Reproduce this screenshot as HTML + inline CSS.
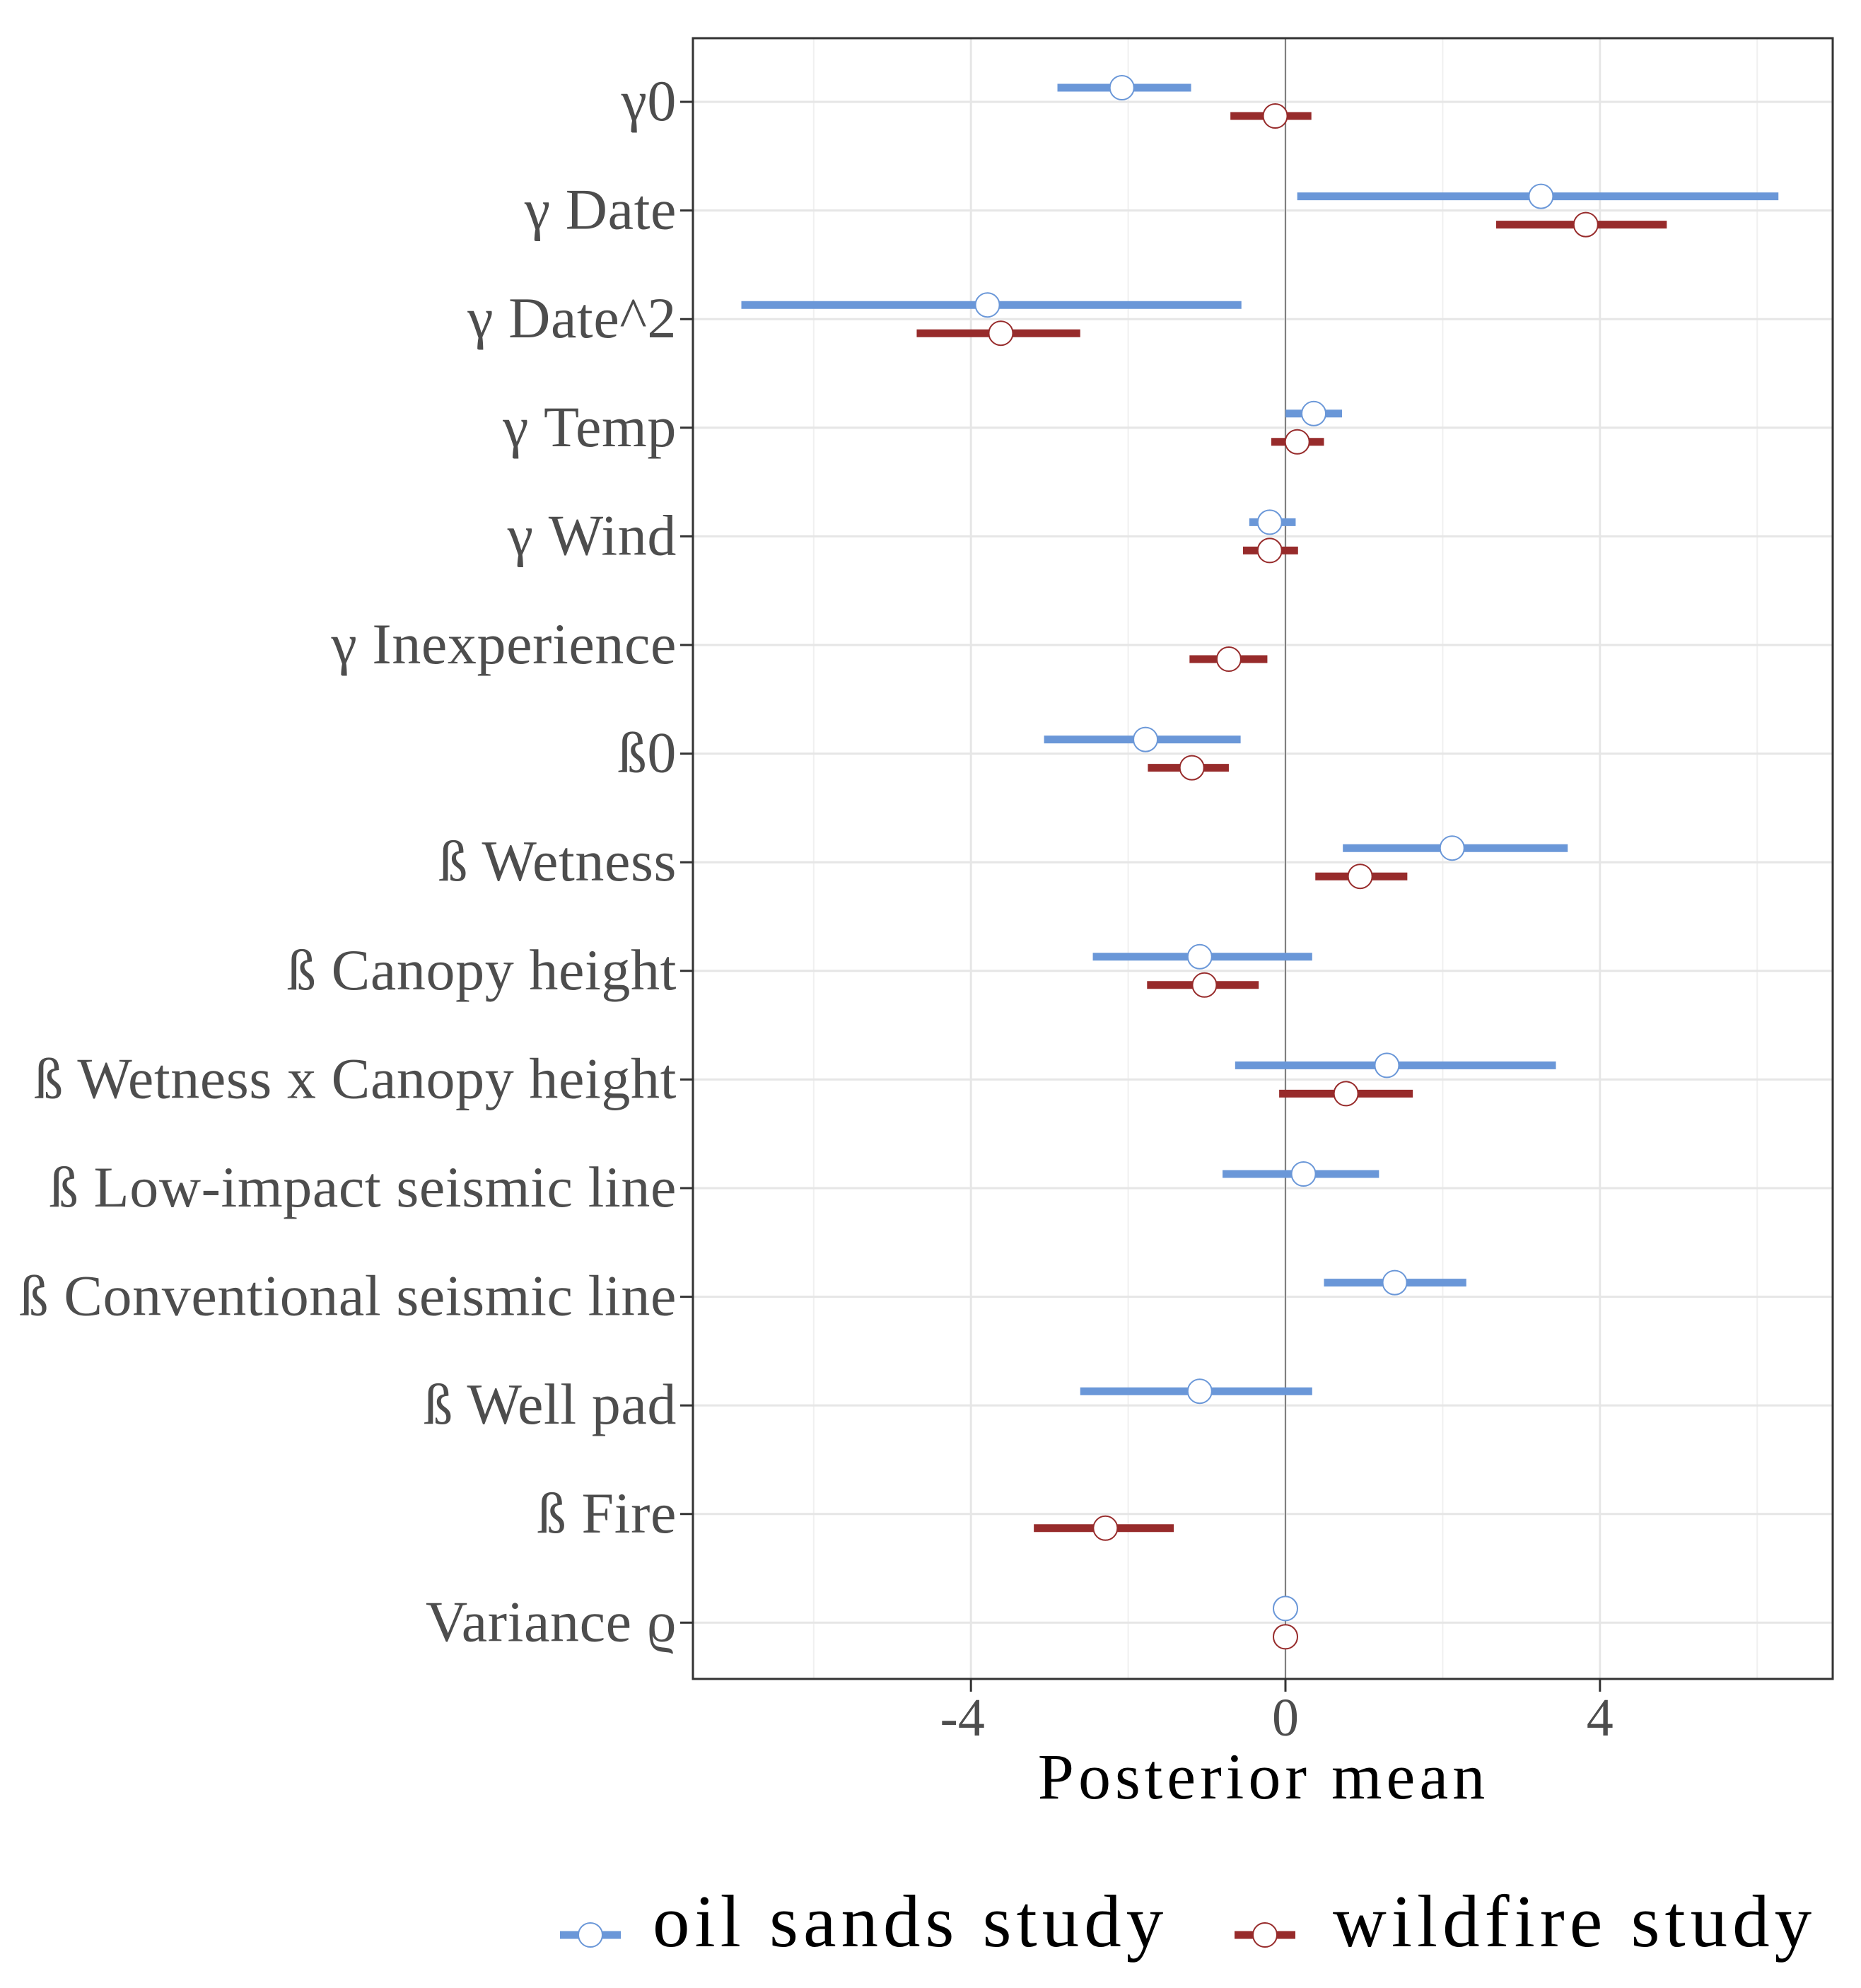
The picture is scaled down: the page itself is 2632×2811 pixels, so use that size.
<!DOCTYPE html>
<html><head><meta charset="utf-8"><style>
html,body{margin:0;padding:0;background:#fff;}
svg{display:block;}
text{font-family:"Liberation Serif","DejaVu Serif",serif;}
</style></head><body>
<svg id="chart" width="2632" height="2811" viewBox="0 0 2632 2811" xmlns="http://www.w3.org/2000/svg">
<rect x="0" y="0" width="2632" height="2811" fill="#fff"/>
<g id="grid"></g>
<g id="marks"></g>
<rect x="980" y="54" width="1612" height="2320" fill="none" stroke="#333" stroke-width="3"/>
<g id="axes"></g>
<text x="1787" y="2543" font-size="92" letter-spacing="6" text-anchor="middle" fill="#000">Posterior mean</text>
<g>
  <g>
    <line x1="792" y1="2736" x2="878" y2="2736" stroke="#6a97d8" stroke-width="11"/>
    <circle cx="835" cy="2736" r="17" fill="#fff" stroke="#6a97d8" stroke-width="2"/>
    <text x="923" y="2752" font-size="105" letter-spacing="7" fill="#000">oil sands study</text>
  </g>
  <g>
    <line x1="1746" y1="2736" x2="1832" y2="2736" stroke="#972b2b" stroke-width="11"/>
    <circle cx="1789" cy="2736" r="17" fill="#fff" stroke="#972b2b" stroke-width="2"/>
    <text x="1885" y="2752" font-size="105" letter-spacing="7" fill="#000">wildfire study</text>
  </g>
</g>
</svg>
<script>
const categories = ["γ0","γ Date","γ Date^2","γ Temp","γ Wind","γ Inexperience","ß0","ß Wetness","ß Canopy height","ß Wetness x Canopy height","ß Low-impact seismic line","ß Conventional seismic line","ß Well pad","ß Fire","Variance ϱ"];
const oilMean = [-2.08,3.25,-3.79,0.36,-0.2,null,-1.78,2.12,-1.09,1.29,0.23,1.39,-1.09,null,0];
const oilLow  = [-2.90,0.15,-6.92,0.0,-0.46,null,-3.07,0.73,-2.45,-0.64,-0.8,0.49,-2.61,null,0];
const oilHigh = [-1.20,6.27,-0.56,0.72,0.13,null,-0.57,3.59,0.34,3.44,1.19,2.3,0.34,null,0];
const fireMean = [-0.13,3.82,-3.62,0.15,-0.2,-0.72,-1.19,0.95,-1.03,0.77,null,null,null,-2.29,0];
const fireLow  = [-0.70,2.68,-4.69,-0.18,-0.54,-1.22,-1.75,0.38,-1.76,-0.08,null,null,null,-3.2,0];
const fireHigh = [0.33,4.85,-2.61,0.49,0.16,-0.23,-0.72,1.55,-0.34,1.62,null,null,null,-1.42,0];
const xTicks = [-4,0,4];
const xMinor = [-6,-2,2,6];

const NS="http://www.w3.org/2000/svg";
const L=980,R=2592,T=54,B=2374;
const x = v => 1818 + v*111.2;
const y = i => 144 + i*153.6;
function mk(tag,attrs,parent){const e=document.createElementNS(NS,tag);for(const k in attrs)e.setAttribute(k,attrs[k]);parent.appendChild(e);return e;}
const grid=document.getElementById('grid'),marks=document.getElementById('marks'),axes=document.getElementById('axes');
xMinor.forEach(v=>{const l=mk('line',{x1:x(v),x2:x(v),y1:T,y2:B,stroke:'#f0f0f0','stroke-width':2},grid);

});
xTicks.forEach(v=>{const l=mk('line',{x1:x(v),x2:x(v),y1:T,y2:B,stroke:'#e6e6e6','stroke-width':3},grid);

});
categories.forEach((c,i)=>{const l=mk('line',{x1:L,x2:R,y1:y(i),y2:y(i),stroke:'#e6e6e6','stroke-width':3},grid);

});
const z=mk('line',{x1:x(0),x2:x(0),y1:T,y2:B,stroke:'#808080','stroke-width':2},grid);


function series(means,lows,highs,off,col,name){
  means.forEach((m,i)=>{ if(m===null) return;
    const g=mk('g',{},marks);
    
    
    mk('line',{x1:x(lows[i]),x2:x(highs[i]),y1:y(i)+off,y2:y(i)+off,stroke:col,'stroke-width':11},g);
    mk('circle',{cx:x(m),cy:y(i)+off,r:17,fill:'#fff',stroke:col,'stroke-width':2},g);
  });
}
series(oilMean,oilLow,oilHigh,-20,'#6a97d8','oil-sands-interval');
series(fireMean,fireLow,fireHigh,20,'#972b2b','wildfire-interval');
categories.forEach((c,i)=>{
  const t=mk('line',{x1:962,x2:980,y1:y(i),y2:y(i),stroke:'#333','stroke-width':3},axes);
  
  
  const tx=mk('text',{x:957,y:y(i)+26,'font-size':82,'letter-spacing':0.6,'text-anchor':'end',fill:'#4d4d4d'},axes);
  tx.textContent=c;
  
  
});
xTicks.forEach(v=>{
  const t=mk('line',{x1:x(v),x2:x(v),y1:B,y2:B+18,stroke:'#333','stroke-width':3},axes);
  
  
  const tx=mk('text',{x:x(v)-(v<0?12:0),y:2454,'font-size':76,'text-anchor':'middle',fill:'#4d4d4d'},axes);
  tx.textContent=String(v);
  
  
});
</script>
</body></html>
